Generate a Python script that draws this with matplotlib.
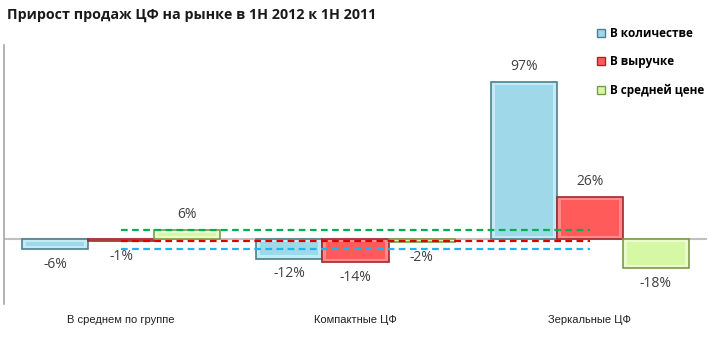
import numpy as np
import matplotlib.pyplot as plt
from matplotlib.patches import Patch

plt.rcParams['font.family'] = ['Open Sans', 'DejaVu Sans']

categories = ["В среднем по группе", "Компактные ЦФ", "Зеркальные ЦФ"]
series_names = ["В количестве", "В выручке", "В средней цене"]
qty = [-6, -12, 97]
revenue = [-1, -14, 26]
avg_price = [6, -2, -18]

face = ["#9FD8E9", "#FF5B5B", "#D6F7A3"]
light = ["#C4EBF5", "#FF8A8A", "#E9FBCB"]
edge = ["#4D7F8E", "#9E2A2A", "#7D9A4A"]
dash_colors = ["#1EB4EE", "#D80000", "#00B050"]

fig = plt.figure(figsize=(7.25, 3.5), dpi=100)
ax = fig.add_axes([4 / 725, 46 / 350, 703 / 725, 259 / 350])

x = np.arange(len(categories))
w = 0.282
data = [qty, revenue, avg_price]
inset = 2.0  # bevel depth in data units (~3 px)

for i, vals in enumerate(data):
    pos = x + (i - 1) * w
    ax.bar(pos, vals, width=w, color=light[i], edgecolor=edge[i], linewidth=1.2, zorder=3)
    # inner flat face of the bevelled bar
    v = np.array(vals, dtype=float)
    depth = np.minimum(np.abs(v) / 3, inset)
    bottom = np.sign(v) * depth
    height = v - 2 * np.sign(v) * depth
    ax.bar(pos, height, bottom=bottom, width=w * 0.88, color=face[i], linewidth=0, zorder=4)
    for p, val in zip(pos, vals):
        ax.annotate(f"{val}%", (p, val), xytext=(0, 11 if val > 0 else -11),
                    textcoords="offset points", ha="center", va="center",
                    fontsize=10, color="#404040", zorder=6)

# group averages carried across the chart
for i, vals in enumerate(data):
    ax.plot([x[0], x[-1]], [vals[0], vals[0]], linestyle=(0, (3, 2)),
            color=dash_colors[i], linewidth=1.6, zorder=7)

ax.axhline(0, color="#C0C0C0", linewidth=1.5, zorder=2)
ax.set_xlim(-0.5, 2.5)
ax.set_ylim(-40, 120)
ax.set_yticks([])
ax.set_xticks(x)
ax.set_xticklabels(categories, fontsize=8, color="#202020",
                   family=['Liberation Sans', 'DejaVu Sans'])
ax.tick_params(axis="x", length=0, pad=8)
for s in ["top", "right", "bottom"]:
    ax.spines[s].set_visible(False)
ax.spines["left"].set_color("#A6A6A6")
ax.spines["left"].set_linewidth(1.2)

fig.text(7 / 725, 1 - 15 / 350, "Прирост продаж ЦФ на рынке в 1Н 2012 к 1Н 2011",
         fontsize=10.3, fontweight="bold", va="center", ha="left", color="#1a1a1a")

handles = [Patch(facecolor=face[i], edgecolor=edge[i], linewidth=1) for i in range(3)]
fig.legend(handles, series_names, loc="upper left", bbox_to_anchor=(597 / 725, 1 - 27 / 350),
           frameon=False, prop={"weight": "bold", "size": 8.5}, handlelength=0.7,
           handleheight=0.7, handletextpad=0.4, labelspacing=1.3, borderaxespad=0,
           borderpad=0)

fig.savefig("out.png", dpi=100)
